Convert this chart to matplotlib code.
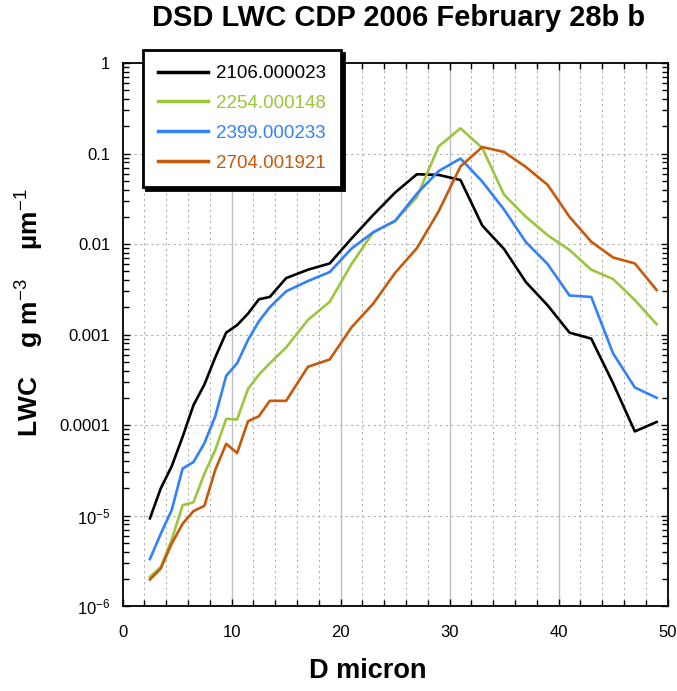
import matplotlib
matplotlib.use("Agg")
import matplotlib.pyplot as plt
from matplotlib.ticker import FixedLocator, LogLocator, NullFormatter

plt.rcParams['font.family'] = ['Liberation Sans', 'DejaVu Sans']
plt.rcParams['mathtext.fontset'] = 'custom'
plt.rcParams['mathtext.rm'] = 'Liberation Sans'
plt.rcParams['mathtext.it'] = 'Liberation Sans:italic'
plt.rcParams['mathtext.bf'] = 'Liberation Sans:bold'

diameter = [2.5, 3.5, 4.5, 5.5, 6.5, 7.5, 8.5, 9.5, 10.5, 11.5, 12.5, 13.5,
            15, 17, 19, 21, 23, 25, 27, 29, 31, 33, 35, 37, 39, 41, 43, 45, 47, 49]

lwc_2106 = [9.3e-6, 2.0e-5, 3.5e-5, 7.4e-5, 1.66e-4, 2.8e-4, 5.6e-4, 1.05e-3, 1.27e-3,
            1.7e-3, 2.45e-3, 2.6e-3, 4.2e-3, 5.2e-3, 6.1e-3, 0.0115, 0.021, 0.037,
            0.059, 0.058, 0.051, 0.016, 0.0088, 0.0038, 0.0021, 0.00105, 0.00090,
            2.9e-4, 8.5e-5, 1.08e-4]
lwc_2254 = [2.1e-6, 2.7e-6, 5.4e-6, 1.3e-5, 1.4e-5, 2.9e-5, 5.3e-5, 1.17e-4, 1.15e-4,
            2.5e-4, 3.6e-4, 4.8e-4, 7.2e-4, 1.45e-3, 2.3e-3, 6.0e-3, 0.0135, 0.018,
            0.033, 0.12, 0.19, 0.115, 0.035, 0.020, 0.0125, 0.0086, 0.0052, 0.0041,
            0.0024, 0.0013]
lwc_2399 = [3.3e-6, 6.3e-6, 1.15e-5, 3.3e-5, 3.9e-5, 6.3e-5, 1.25e-4, 3.5e-4, 4.8e-4,
            8.7e-4, 1.4e-3, 2.0e-3, 3.0e-3, 3.9e-3, 4.9e-3, 8.9e-3, 0.0135, 0.018,
            0.036, 0.064, 0.088, 0.049, 0.024, 0.0105, 0.006, 0.0027, 0.0026,
            6.2e-4, 2.6e-4, 2.0e-4]
lwc_2704 = [1.96e-6, 2.6e-6, 4.9e-6, 8.1e-6, 1.12e-5, 1.28e-5, 3.2e-5, 6.2e-5, 4.9e-5,
            1.1e-4, 1.25e-4, 1.85e-4, 1.85e-4, 4.4e-4, 5.3e-4, 1.2e-3, 2.2e-3, 4.8e-3,
            9.0e-3, 0.023, 0.072, 0.118, 0.104, 0.071, 0.045, 0.020, 0.0106, 0.0071,
            0.0061, 0.0031]

series_labels = ['2106.000023', '2254.000148', '2399.000233', '2704.001921']
series_colors = ['#000000', '#9BC53D', '#3380FF', '#C8580A']

x_ticks = [0, 10, 20, 30, 40, 50]
y_ticks = [1e-6, 1e-5, 1e-4, 1e-3, 1e-2, 1e-1, 1]
y_tick_labels = [r'10$^{-6}$', r'10$^{-5}$', '0.0001', '0.001', '0.01', '0.1', '1']

fig = plt.figure(figsize=(6.77, 6.91), dpi=100)
ax = fig.add_axes([0.1812, 0.123, 0.8048, 0.7858])

for y, lab, col in zip([lwc_2106, lwc_2254, lwc_2399, lwc_2704], series_labels, series_colors):
    ax.plot(diameter, y, color=col, lw=1.9, label=lab, zorder=3)

ax.set_yscale('log')
ax.set_xlim(0, 50)
ax.set_ylim(1e-6, 1)

ax.xaxis.set_major_locator(FixedLocator(x_ticks))
ax.xaxis.set_minor_locator(FixedLocator([v for v in range(0, 51, 2) if v % 10 != 0]))
ax.yaxis.set_major_locator(FixedLocator(y_ticks))
ax.yaxis.set_minor_locator(LogLocator(base=10, subs=range(2, 10), numticks=20))
ax.yaxis.set_minor_formatter(NullFormatter())
ax.set_yticklabels(y_tick_labels)
ax.set_xticklabels([str(v) for v in x_ticks])

# grid
for v in [10, 20, 30, 40]:
    ax.axvline(v, color='#c0c0c0', lw=1.0, zorder=1)
for v in range(2, 50, 2):
    if v % 10 != 0:
        ax.axvline(v, color='#b0b0b0', lw=0.8, ls=(0, (2, 3)), zorder=1)
for v in y_ticks[1:-1]:
    ax.axhline(v, color='#b0b0b0', lw=0.8, ls=(0, (2, 3)), zorder=1)

ax.tick_params(which='both', direction='in', top=True, right=True, labelsize=12,
               colors='black', width=1.0)
ax.tick_params(which='major', length=5, pad=9)
ax.tick_params(which='minor', length=4)
ax.tick_params(axis='x', which='major', pad=14)
for sp in ax.spines.values():
    sp.set_linewidth(1.3)

ax.set_xlabel('D micron', fontsize=19.5, fontweight='bold')
ax.xaxis.set_label_coords(0.45, -0.095)
ax.set_ylabel('LWC    g m$^{-3}$    µm$^{-1}$', fontsize=19, fontweight='bold')
ax.yaxis.set_label_coords(-0.14, 0.54)
fig.text(0.589, 0.974, 'DSD LWC CDP 2006 February 28b b', fontsize=21, fontweight='bold',
         ha='center', va='center')

leg = ax.legend(loc='upper left', bbox_to_anchor=(0.037, 1.024), borderaxespad=0,
                frameon=True, fancybox=False, edgecolor='black', fontsize=13.5,
                handlelength=2.7, handletextpad=0.4, labelspacing=0.68, borderpad=0.8,
                labelcolor='linecolor', shadow={'color': 'black', 'alpha': 1.0})
leg.get_frame().set_linewidth(2.0)
leg.set_zorder(5)
for line in leg.get_lines():
    line.set_linewidth(2.5)

fig.savefig('out.png', dpi=100)
